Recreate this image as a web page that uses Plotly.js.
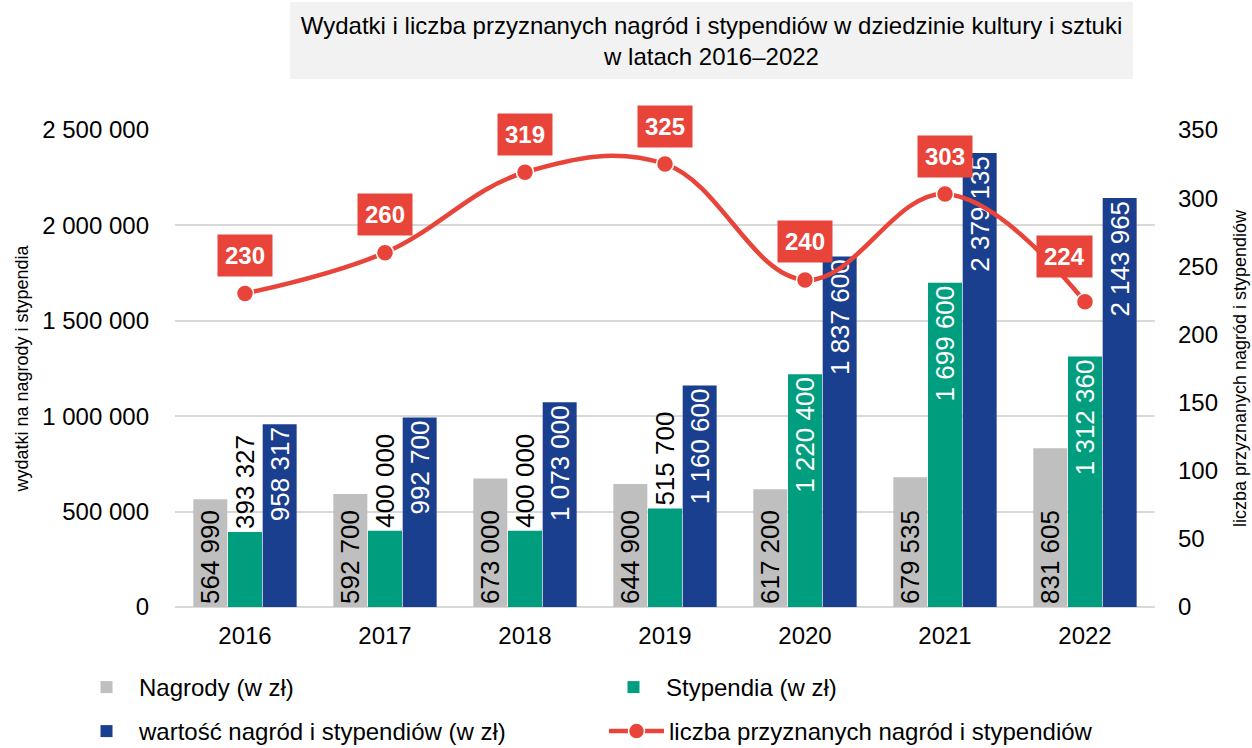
<!DOCTYPE html>
<html>
<head>
<meta charset="utf-8">
<script src="https://cdn.plot.ly/plotly-3.0.1.min.js"></script>
<style>html,body{margin:0;padding:0;background:#fff;}#chart{width:1252px;height:748px;}</style>
</head>
<body>
<div id="chart"></div>
<script>
const years = ['2016', '2017', '2018', '2019', '2020', '2021', '2022'];
const nagrody = [564990, 592700, 673000, 644900, 617200, 679535, 831605];
const stypendia = [393327, 400000, 400000, 515700, 1220400, 1699600, 1312360];
const wartosc = [958317, 992700, 1073000, 1160600, 1837600, 2379135, 2143965];
const liczba = [230, 260, 319, 325, 240, 303, 224];
const stypTextPos = ['outside', 'outside', 'outside', 'outside', 'inside', 'inside', 'inside'];

const FONT = 'Liberation Sans, Arial, sans-serif';
const RED = '#E8443A';

const traces = [
  {
    type: 'bar', name: 'Nagrody (w zł)', x: years, y: nagrody,
    marker: {color: '#BFBFBF'},
    texttemplate: '%{y:,.0f}', textposition: 'inside', insidetextanchor: 'start',
    textangle: -90, constraintext: 'none', cliponaxis: false,
    insidetextfont: {color: '#000', size: 26, family: FONT},
    hoverinfo: 'skip', legend: 'legend'
  },
  {
    type: 'bar', name: 'Stypendia (w zł)', x: years, y: stypendia,
    marker: {color: '#009E7E'},
    texttemplate: '%{y:,.0f}', textposition: stypTextPos, insidetextanchor: 'end',
    textangle: -90, constraintext: 'none', cliponaxis: false,
    insidetextfont: {color: '#fff', size: 26, family: FONT},
    outsidetextfont: {color: '#000', size: 26, family: FONT},
    hoverinfo: 'skip', legend: 'legend2'
  },
  {
    type: 'bar', name: 'wartość nagród i stypendiów (w zł)', x: years, y: wartosc,
    marker: {color: '#1B3F8F'},
    texttemplate: '%{y:,.0f}', textposition: 'inside', insidetextanchor: 'end',
    textangle: -90, constraintext: 'none', cliponaxis: false,
    insidetextfont: {color: '#fff', size: 26, family: FONT},
    hoverinfo: 'skip', legend: 'legend3'
  },
  {
    type: 'scatter', mode: 'lines+markers', name: 'liczba przyznanych nagród i stypendiów',
    x: years, y: liczba, yaxis: 'y2',
    line: {color: RED, width: 4.5, shape: 'spline', smoothing: 1.1},
    marker: {color: RED, size: 17, line: {color: '#fff', width: 1.5}},
    cliponaxis: false, hoverinfo: 'skip', legend: 'legend4'
  }
];

const labelShift = [0, 0, 0, 0, 0, 0, -21];
const labelYShift = [38, 38, 38, 38, 38, 38, 45];
const annotations = liczba.map((v, i) => ({
  x: i, y: v, xref: 'x', yref: 'y2',
  text: String(v), showarrow: false,
  xshift: labelShift[i], yshift: labelYShift[i],
  bgcolor: RED, borderpad: 7,
  font: {color: '#fff', size: 24, family: FONT, weight: 'bold'}
}));

function legendAt(xPx, topPx) {
  return {
    orientation: 'h', xref: 'container', yref: 'container',
    x: xPx / 1252, xanchor: 'left', y: 1 - topPx / 748, yanchor: 'top',
    itemwidth: 55, font: {size: 24}, bgcolor: 'rgba(0,0,0,0)'
  };
}

const layout = {
  width: 1252, height: 748,
  margin: {l: 175, r: 97, t: 130, b: 141, autoexpand: false},
  paper_bgcolor: '#fff', plot_bgcolor: '#fff',
  font: {family: FONT, color: '#000', size: 24},
  separators: ', ',
  barmode: 'group', bargap: 0.257, bargroupgap: 0.02,
  showlegend: true,
  title: {
    text: 'Wydatki i liczba przyznanych nagród i stypendiów w dziedzinie kultury i sztuki<br>w latach 2016–2022',
    font: {size: 24, family: FONT, color: '#000'},
    xref: 'paper', x: (711.5 - 175) / 980, xanchor: 'center',
    yref: 'container', y: 1 - 34 / 748, yanchor: 'middle'
  },
  shapes: [{
    type: 'rect', xref: 'paper', yref: 'paper', layer: 'below',
    x0: (290 - 175) / 980, x1: (1133 - 175) / 980,
    y0: (607 - 79) / 477, y1: (607 - 2) / 477,
    fillcolor: '#F2F2F2', line: {width: 0}
  }],
  xaxis: {
    type: 'category', range: [-0.5, 6.5], autorange: false,
    showgrid: false, zeroline: false, showline: false,
    tickfont: {size: 24}, ticks: '', ticklabelstandoff: 12
  },
  yaxis: {
    range: [0, 2500000], autorange: false, dtick: 500000, tickformat: ',.0f',
    showgrid: true, gridcolor: '#D9D9D9', gridwidth: 2,
    zeroline: true, zerolinecolor: '#D9D9D9', zerolinewidth: 2,
    tickfont: {size: 24}, ticks: '', ticklabelstandoff: 25,
    title: {text: 'wydatki na nagrody i stypendia', font: {size: 18}, standoff: 8}
  },
  yaxis2: {
    range: [0, 350], autorange: false, dtick: 50, overlaying: 'y', side: 'right',
    showgrid: false, zeroline: false, tickfont: {size: 24}, ticks: '', ticklabelstandoff: 22,
    title: {text: 'liczba przyznanych nagród i stypendiów', font: {size: 18}, standoff: 16}
  },
  legend: legendAt(74, 665),
  legend2: legendAt(601, 665),
  legend3: legendAt(74, 709),
  legend4: legendAt(604, 709),
  annotations: annotations
};

Plotly.newPlot('chart', traces, layout, {displayModeBar: false, staticPlot: true});
</script>
</body>
</html>
